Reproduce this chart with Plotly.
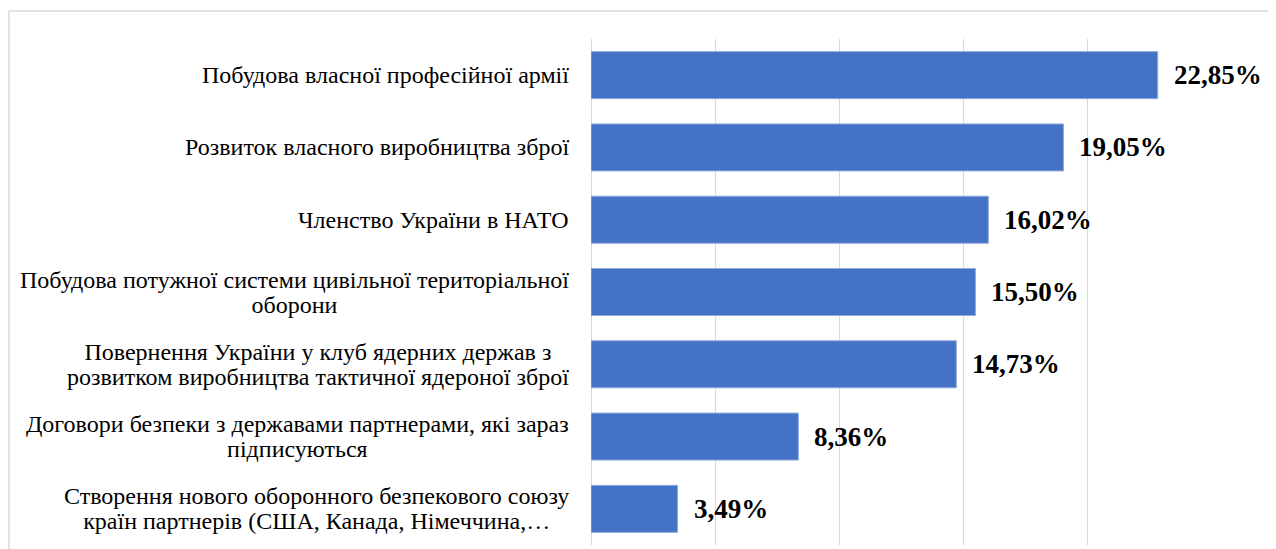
import plotly.graph_objects as go

categories = [
    "Побудова власної професійної армії",
    "Розвиток власного виробництва зброї",
    "Членство України в НАТО",
    "Побудова потужної системи цивільної територіальної<br>оборони",
    "Повернення України у клуб ядерних держав з<br>розвитком виробництва тактичної ядероної зброї",
    "Договори безпеки з державами партнерами, які зараз<br>підписуються",
    "Створення нового оборонного безпекового союзу<br>країн партнерів (США, Канада, Німеччина,…",
]
values = [22.85, 19.05, 16.02, 15.50, 14.73, 8.36, 3.49]
value_labels = [f"{v:.2f}".replace(".", ",") + "%" for v in values]

FONT = "Liberation Serif"
LABEL_SIZE = 24
LINE_GAP = 25  # px between label baselines

L, T, PW, PH = 583, 31, 620, 506

fig = go.Figure()
fig.add_trace(go.Bar(
    x=values,
    y=categories,
    orientation="h",
    marker=dict(color="#4472C4", line=dict(color="#8EA9DB", width=1)),
    hoverinfo="x+y",
))

annotations = []
for c, v, t in zip(categories, values, value_labels):
    annotations.append(dict(
        x=v, y=c, xref="x", yref="y", text=f"<b>{t}</b>",
        showarrow=False, xanchor="left", yanchor="middle", xshift=14,
        font=dict(family=FONT, size=27, color="#000000"),
    ))
    styled = "<br>".join(
        f'<span style="font-size:{LABEL_SIZE}px">{line}</span>' for line in c.split("<br>")
    )
    annotations.append(dict(
        x=0, y=c, xref="paper", yref="y", text=styled,
        showarrow=False, xanchor="right", yanchor="middle", xshift=-20,
        align="center",
        font=dict(family=FONT, size=LINE_GAP / 1.3, color="#000000"),
    ))

fig.update_layout(
    width=1276, height=549,
    margin=dict(l=L, r=1276 - L - PW, t=T, b=549 - T - PH),
    paper_bgcolor="white", plot_bgcolor="white",
    font=dict(family=FONT),
    bargap=0.35,
    showlegend=False,
    annotations=annotations,
    xaxis=dict(range=[0, 25], dtick=5, showgrid=True, gridcolor="#D9D9D9",
               gridwidth=1, showticklabels=False, zeroline=True,
               zerolinecolor="#D9D9D9", zerolinewidth=1, fixedrange=True),
    yaxis=dict(autorange="reversed", showticklabels=False, showgrid=False,
               zeroline=False, fixedrange=True),
    shapes=[dict(type="rect", xref="paper", yref="paper",
                 x0=(1 - L) / PW, x1=(1300 - L) / PW,
                 y0=-0.1, y1=1 + (T - 3) / PH,
                 line=dict(color="#D9D9D9", width=1.5), layer="below")],
)

fig.write_html("out.html")
